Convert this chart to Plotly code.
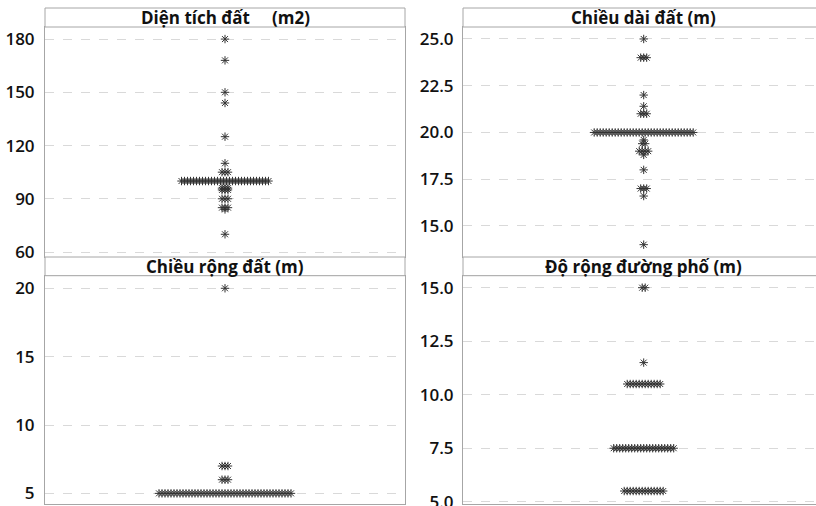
import plotly.graph_objects as go

# ---------------- data (value, count of observations at that value) ----------------
dien_tich_values = [180, 168, 150, 144, 125, 110, 105, 100, 96, 95, 90, 85, 84, 70]
dien_tich_counts = [1, 1, 1, 1, 1, 1, 3, 30, 3, 3, 3, 3, 1, 1]

chieu_dai_values = [25, 24, 22, 21.4, 21, 20, 19.6, 19.4, 19, 18.8, 18, 17, 16.6, 14]
chieu_dai_counts = [1, 3, 1, 1, 3, 34, 1, 2, 4, 1, 1, 3, 1, 1]

chieu_rong_values = [20, 7, 6, 5]
chieu_rong_counts = [1, 3, 3, 45]

duong_pho_values = [15, 11.5, 10.5, 7.5, 5.5]
duong_pho_counts = [2, 1, 12, 21, 14]

titles = ["Diện tích đất\u00a0\u00a0\u00a0\u00a0\u00a0(m2)", "Chiều dài đất (m)",
          "Chiều rộng đất (m)", "Độ rộng đường phố (m)"]

tl_ticks = [60, 90, 120, 150, 180]
tr_ticks = [15.0, 17.5, 20.0, 22.5, 25.0]
bl_ticks = [5, 10, 15, 20]
br_ticks = [5.0, 7.5, 10.0, 12.5, 15.0]

# ---------------- helpers ----------------
SPACING = 3.0  # horizontal spacing between stacked symbols (pixel units)


def spread(values, counts):
    xs, ys = [], []
    for v, n in zip(values, counts):
        for i in range(n):
            xs.append((i - (n - 1) / 2) * SPACING)
            ys.append(v)
    return xs, ys


W, H = 816, 506
panels = [
    dict(x0=45, x1=405, y0=27, y1=257, s0=8, xr=[-180, 180], yr=[57.2, 186.8], ticks=tl_ticks, fmt=None,
         data=(dien_tich_values, dien_tich_counts), right=False),
    dict(x0=463, x1=816, y0=27, y1=257, s0=8, xr=[-180.7, 172.3], yr=[13.34, 25.64], ticks=tr_ticks, fmt=".1f",
         data=(chieu_dai_values, chieu_dai_counts), right=True),
    dict(x0=45, x1=405, y0=275.7, y1=504.3, s0=257, xr=[-180, 180], yr=[4.2, 20.92], ticks=bl_ticks, fmt=None,
         data=(chieu_rong_values, chieu_rong_counts), right=False),
    dict(x0=463, x1=816, y0=275.7, y1=504.3, s0=257, xr=[-180.7, 172.3], yr=[4.88, 15.56], ticks=br_ticks, fmt=".1f",
         data=(duong_pho_values, duong_pho_counts), right=True),
]

fig = go.Figure()
shapes, annotations = [], []
border = "#a6a6a6"
FONT = "Open Sans"

for k, p in enumerate(panels, start=1):
    suffix = "" if k == 1 else str(k)
    xs, ys = spread(*p["data"])
    fig.add_trace(go.Scatter(
        x=xs, y=ys, mode="markers", xaxis="x" + suffix, yaxis="y" + suffix,
        marker=dict(symbol="asterisk-open", size=7, color="#333333",
                    line=dict(color="#2a2a2a", width=1)),
        showlegend=False, hoverinfo="y"))
    xdom = [p["x0"] / W, min(p["x1"] / W, 1.0)]
    ydom = [1 - p["y1"] / H, 1 - p["y0"] / H]
    fig.layout["xaxis" + suffix] = dict(
        domain=xdom, range=p["xr"], showticklabels=False, showgrid=False, zeroline=False,
        showline=True, mirror=True, linecolor=border, linewidth=1, ticks="",
        anchor="y" + suffix, fixedrange=True)
    fig.layout["yaxis" + suffix] = dict(
        domain=ydom, range=p["yr"], tickvals=p["ticks"], tickformat=p["fmt"],
        showgrid=True, gridcolor="#d9d9d9", griddash="dash", gridwidth=1, zeroline=False,
        showline=True, mirror=not p["right"], linecolor=border, linewidth=1, ticks="",
        ticklabelstandoff=5 if p["right"] else 6, ticklabeloverflow="allow",
        tickfont=dict(family=FONT, size=17, color="#111111", weight=600),
        anchor="x" + suffix, fixedrange=True)
    # title strip
    shapes.append(dict(type="rect", xref="paper", yref="paper",
                       x0=xdom[0], x1=(p["x1"] + (10 if p["right"] else 0)) / W,
                       y0=1 - p["y0"] / H, y1=1 - p["s0"] / H,
                       line=dict(color=border, width=1), fillcolor="white", layer="above"))
    annotations.append(dict(
        text="<b>" + titles[k - 1] + "</b>", xref="paper", yref="paper",
        x=(p["x0"] + 180) / W, y=1 - (p["s0"] + p["y0"]) / 2 / H,
        xanchor="center", yanchor="middle", showarrow=False,
        font=dict(family=FONT, size=17, color="#111111")))

fig.update_layout(
    width=W, height=H, margin=dict(l=0, r=0, t=0, b=0, autoexpand=False),
    paper_bgcolor="white", plot_bgcolor="white",
    shapes=shapes, annotations=annotations,
)

post = "document.documentElement.style.margin='0';document.body.style.margin='0';"
fig.write_html("out.html", config={"displayModeBar": False}, post_script=post)
